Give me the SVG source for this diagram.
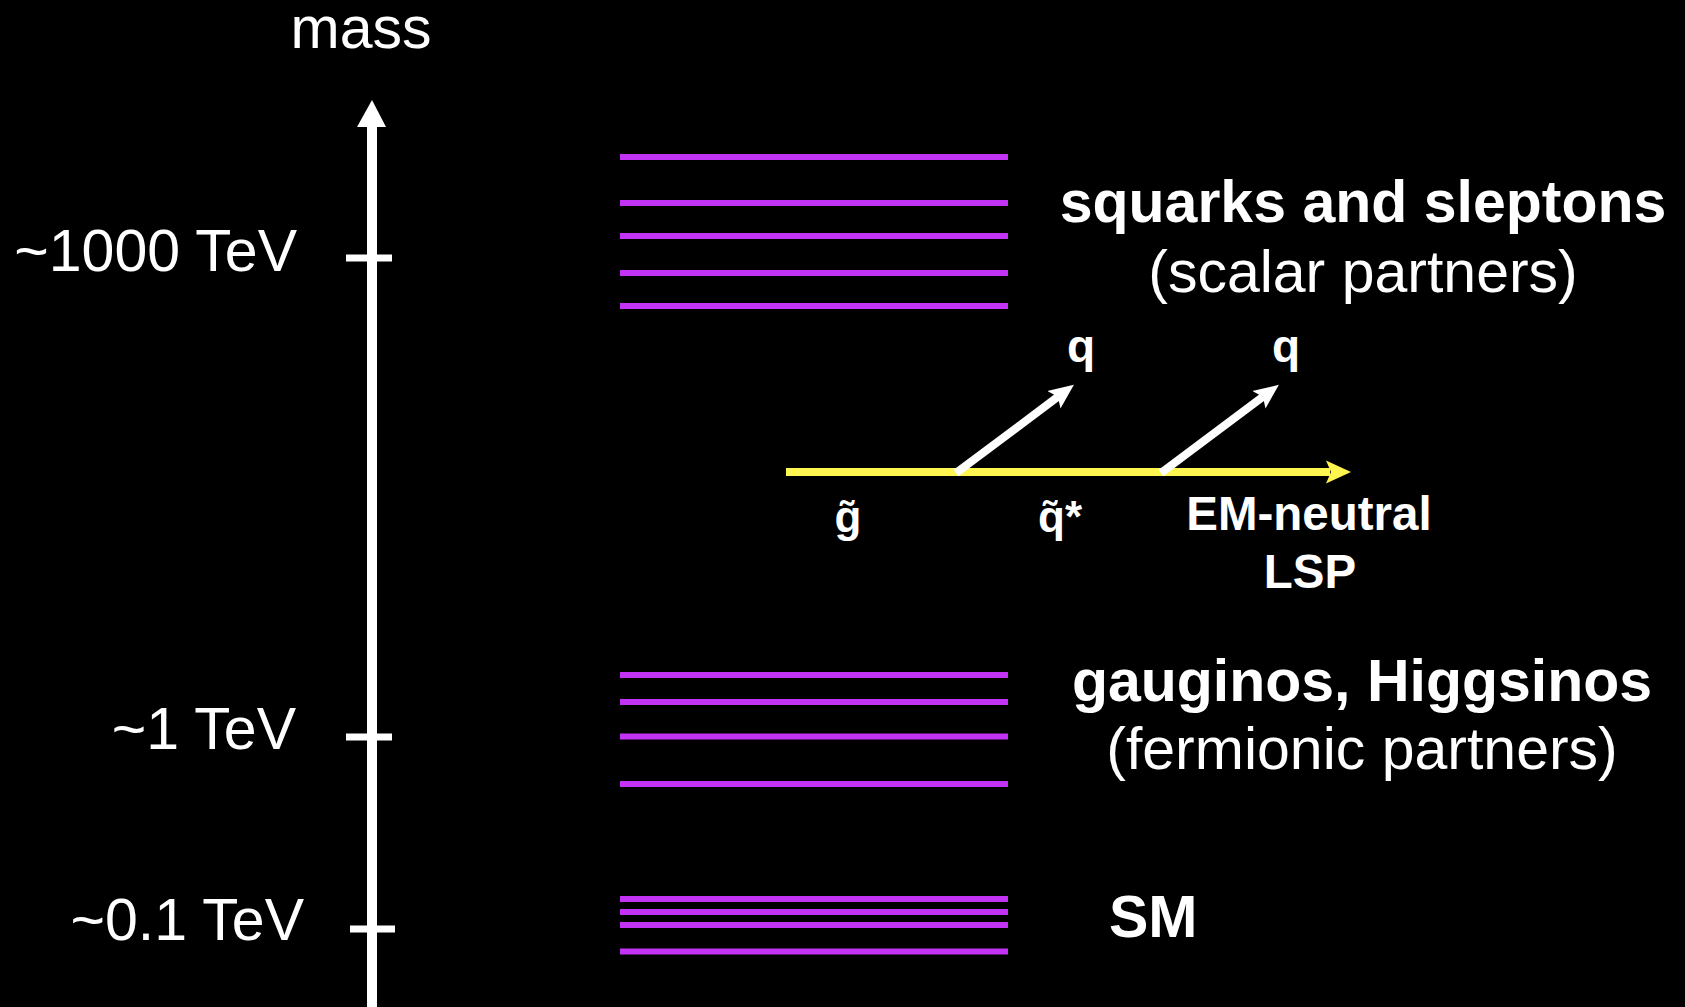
<svg xmlns="http://www.w3.org/2000/svg" width="1685" height="1007" viewBox="0 0 1685 1007">
<defs>
<style>
.t{font-family:"Liberation Sans",Arial,sans-serif;fill:#ffffff}
.reg{font-size:59px}
.big{font-size:59px}
.b{font-weight:bold}
.lvl{stroke:#c233f4;stroke-width:6;fill:none}
.tick{stroke:#ffffff;stroke-width:7}
.wa{stroke:#ffffff;stroke-width:8;fill:none;marker-end:url(#wh)}
.ya{stroke:#fff550;stroke-width:8;fill:none;marker-end:url(#yh)}
</style>
<marker id="wh" viewBox="0 -12 26 24" refX="5" refY="0" markerWidth="26" markerHeight="24" markerUnits="userSpaceOnUse" orient="auto">
<path d="M0,-11 L25,0 L0,11 L5,0 Z" fill="#ffffff"/>
</marker>
<marker id="yh" viewBox="0 -12 26 24" refX="4" refY="0" markerWidth="26" markerHeight="24" markerUnits="userSpaceOnUse" orient="auto">
<path d="M0,-11.5 L25,0 L0,11.5 L5,0 Z" fill="#fff550"/>
</marker>
</defs>
<rect x="0" y="0" width="1685" height="1007" fill="#000000"/>

<g id="axis">
<rect x="367" y="125" width="10" height="882" fill="#ffffff"/>
<polygon points="357,127 372,100 386,127" fill="#ffffff"/>
<line class="tick" x1="346" y1="258" x2="392" y2="258"/>
<line class="tick" x1="346" y1="737" x2="392" y2="737"/>
<line class="tick" x1="350" y1="929" x2="395" y2="929"/>
<text class="t reg" x="361" y="48" text-anchor="middle">mass</text>
<text class="t reg" x="297" y="271" text-anchor="end">~1000 TeV</text>
<text class="t reg" x="296" y="749" text-anchor="end">~1 TeV</text>
<text class="t reg" x="304" y="940" text-anchor="end">~0.1 TeV</text>
</g>

<g id="scalars">
<line class="lvl" x1="620" y1="157" x2="1008" y2="157"/>
<line class="lvl" x1="620" y1="203" x2="1008" y2="203"/>
<line class="lvl" x1="620" y1="236" x2="1008" y2="236"/>
<line class="lvl" x1="620" y1="273" x2="1008" y2="273"/>
<line class="lvl" x1="620" y1="306" x2="1008" y2="306"/>
<text class="t big b" x="1363" y="222" text-anchor="middle">squarks and sleptons</text>
<text class="t big" x="1363" y="292" text-anchor="middle">(scalar partners)</text>
</g>

<g id="fermions">
<line class="lvl" x1="620" y1="675" x2="1008" y2="675"/>
<line class="lvl" x1="620" y1="702" x2="1008" y2="702"/>
<line class="lvl" x1="620" y1="736.5" x2="1008" y2="736.5"/>
<line class="lvl" x1="620" y1="784" x2="1008" y2="784"/>
<text class="t big b" x="1362" y="701" text-anchor="middle">gauginos, Higgsinos</text>
<text class="t big" x="1362" y="769" text-anchor="middle">(fermionic partners)</text>
</g>

<g id="sm">
<line class="lvl" x1="620" y1="899" x2="1008" y2="899"/>
<line class="lvl" x1="620" y1="912" x2="1008" y2="912"/>
<line class="lvl" x1="620" y1="925" x2="1008" y2="925"/>
<line class="lvl" x1="620" y1="951.5" x2="1008" y2="951.5"/>
<text class="t big b" x="1109" y="937">SM</text>
</g>

<g id="connectors">
<line class="ya" x1="786" y1="472" x2="1330" y2="472"/>
<line class="wa" x1="956" y1="473" x2="1057.9" y2="396.8"/>
<line class="wa" x1="1161" y1="473" x2="1262.9" y2="396.8"/>
</g>

<g id="decay-labels">
<text class="t b" font-size="46" x="1081" y="362" text-anchor="middle">q</text>
<text class="t b" font-size="46" x="1286" y="362" text-anchor="middle">q</text>
<text class="t b" font-size="44" x="848" y="532" text-anchor="middle">g̃</text>
<text class="t b" font-size="44" x="1060" y="532" text-anchor="middle">q̃*</text>
<text class="t b" font-size="47.5" x="1309" y="530" text-anchor="middle">EM-neutral</text>
<text class="t b" font-size="47.5" x="1310" y="588" text-anchor="middle">LSP</text>
</g>
</svg>
